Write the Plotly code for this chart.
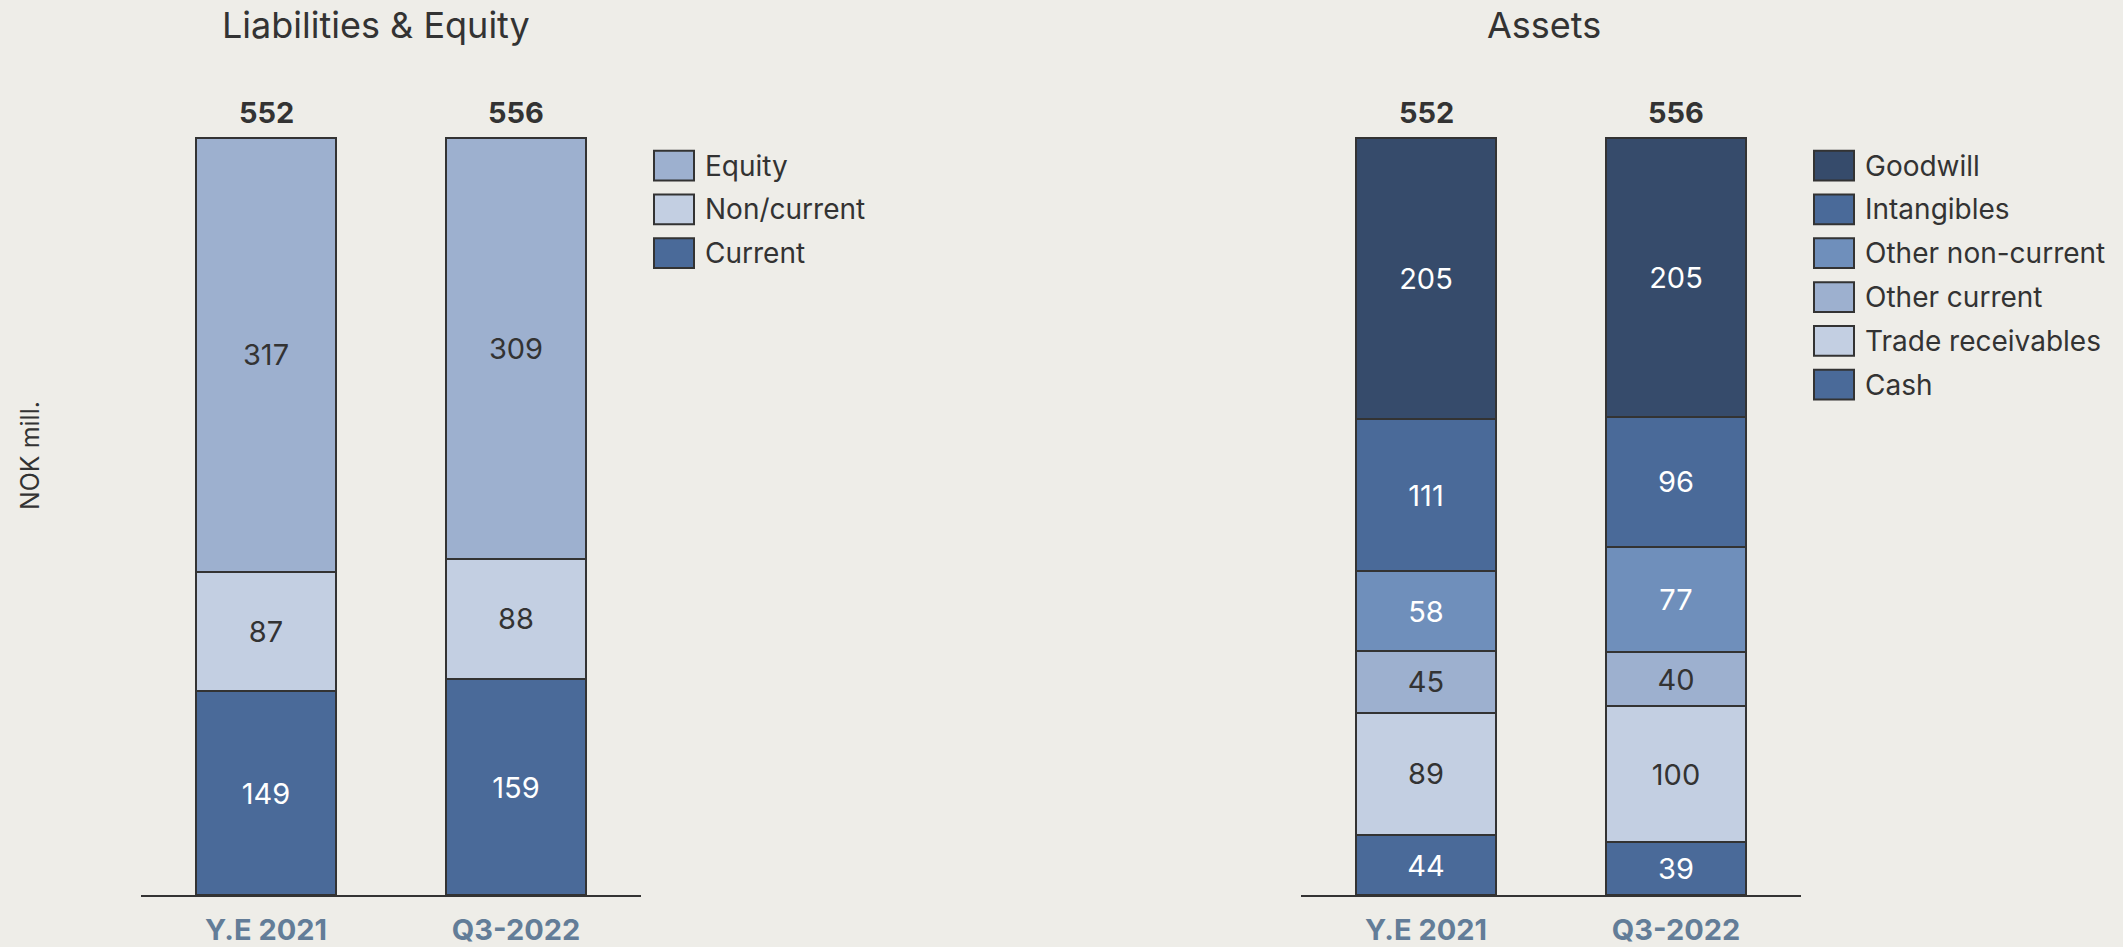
import plotly.graph_objects as go

W, H = 2123, 947

categories = ["Y.E 2021", "Q3-2022"]

# Liabilities & Equity (bottom -> top)
liab_names = ["Current", "Non/current", "Equity"]
liab_current = [149, 159]
liab_noncurrent = [87, 88]
liab_equity = [317, 309]
liab_totals = [552, 556]

# Assets (bottom -> top)
asset_names = ["Cash", "Trade receivables", "Other current", "Other non-current", "Intangibles", "Goodwill"]
asset_cash = [44, 39]
asset_trade = [89, 100]
asset_other_current = [45, 40]
asset_other_noncurrent = [58, 77]
asset_intangibles = [111, 96]
asset_goodwill = [205, 205]
asset_totals = [552, 556]

BG = "#eeede8"
DARK = "#333333"
FONT = "Inter"

liab_series = [
    ("Current", liab_current, "#4a6a99", "white"),
    ("Non/current", liab_noncurrent, "#c3cfe2", DARK),
    ("Equity", liab_equity, "#9db0cf", DARK),
]
asset_series = [
    ("Cash", asset_cash, "#4a6a99", "white"),
    ("Trade receivables", asset_trade, "#c3cfe2", DARK),
    ("Other current", asset_other_current, "#9db0cf", DARK),
    ("Other non-current", asset_other_noncurrent, "#6f8fbb", "white"),
    ("Intangibles", asset_intangibles, "#4a6a99", "white"),
    ("Goodwill", asset_goodwill, "#364b6b", "white"),
]

fig = go.Figure()

def add_bars(series, xa, ya):
    for name, vals, color, tcolor in series:
        fig.add_trace(go.Bar(
            x=categories, y=vals, name=name,
            xaxis=xa, yaxis=ya,
            width=0.56,
            marker=dict(color=color, line=dict(color=DARK, width=2)),
            text=[str(v) for v in vals],
            textposition="inside", insidetextanchor="middle",
            textfont=dict(family=FONT, size=29, color=tcolor),
            constraintext="none",
            showlegend=False, hoverinfo="skip",
        ))

add_bars(liab_series, "x", "y")
add_bars(asset_series, "x2", "y2")

def px_x(x):
    return x / W

def px_y(y):
    return 1 - y / H

annotations = []
shapes = []

# totals on top of (100%-normalised) bars
for xa, ya, totals in (("x", "y", liab_totals), ("x2", "y2", asset_totals)):
    for c, t in zip(categories, totals):
        annotations.append(dict(
            x=c, y=100, xref=xa, yref=ya, text=f"<b>{t}</b>", showarrow=False,
            yanchor="bottom", yshift=6,
            font=dict(family=FONT, size=29, color=DARK),
        ))

# titles
annotations.append(dict(x=px_x(376), y=px_y(25), xref="paper", yref="paper",
                        text="Liabilities & Equity", showarrow=False,
                        xanchor="center", yanchor="middle",
                        font=dict(family=FONT, size=36, color=DARK)))
annotations.append(dict(x=px_x(1544), y=px_y(25), xref="paper", yref="paper",
                        text="Assets", showarrow=False,
                        xanchor="center", yanchor="middle",
                        font=dict(family=FONT, size=36, color=DARK)))
# y-axis title
annotations.append(dict(x=px_x(30), y=px_y(460), xref="paper", yref="paper",
                        text="NOK mill.", showarrow=False, textangle=-90,
                        xanchor="center", yanchor="middle",
                        font=dict(family=FONT, size=25, color=DARK)))

# custom legends (top -> bottom = reverse of stacking)
def add_legend(series, box_x, text_x, y0):
    for i, (name, vals, color, tcolor) in enumerate(reversed(series)):
        cy = y0 + i * 44.2
        shapes.append(dict(type="rect", xref="paper", yref="paper",
                           x0=px_x(box_x), x1=px_x(box_x + 40),
                           y0=px_y(cy + 15), y1=px_y(cy - 15),
                           fillcolor=color, line=dict(color=DARK, width=2)))
        annotations.append(dict(x=px_x(text_x), y=px_y(cy), xref="paper", yref="paper",
                                text=name, showarrow=False,
                                xanchor="left", yanchor="middle",
                                font=dict(family=FONT, size=28, color=DARK)))

add_legend(liab_series, 654, 703, 167)
add_legend(asset_series, 1814, 1863, 167)

ymax = 105
base_px = 903
unit_px = (903 - 139) / 100
top_px = base_px - ymax * unit_px

xaxis_common = dict(
    showline=True, linecolor=DARK, linewidth=2,
    showgrid=False, zeroline=False, ticks="outside", ticklen=8, tickcolor="rgba(0,0,0,0)",
    tickfont=dict(family=FONT, size=29, color="#637d98", weight=700),
    range=[-0.5, 1.5], fixedrange=True,
)
yaxis_common = dict(range=[0, ymax], showgrid=False, zeroline=False,
                    showticklabels=False, showline=False, ticks="", fixedrange=True)

fig.update_layout(
    width=W, height=H,
    paper_bgcolor=BG, plot_bgcolor=BG,
    margin=dict(l=0, r=0, t=0, b=0),
    barmode="stack",
    barnorm="percent",
    font=dict(family=FONT, color=DARK),
    xaxis=dict(domain=[px_x(141), px_x(641)], anchor="y", **xaxis_common),
    yaxis=dict(domain=[px_y(base_px), px_y(top_px)], anchor="x", **yaxis_common),
    xaxis2=dict(domain=[px_x(1301), px_x(1801)], anchor="y2", **xaxis_common),
    yaxis2=dict(domain=[px_y(base_px), px_y(top_px)], anchor="x2", **yaxis_common),
    annotations=annotations,
    shapes=shapes,
    showlegend=False,
    uniformtext=dict(mode=False),
)

fig.write_html(
    "out.html",
    config={"displayModeBar": False},
    post_script="document.body.style.margin='0';document.body.style.padding='0';"
                "document.body.style.background='#eeede8';",
)
